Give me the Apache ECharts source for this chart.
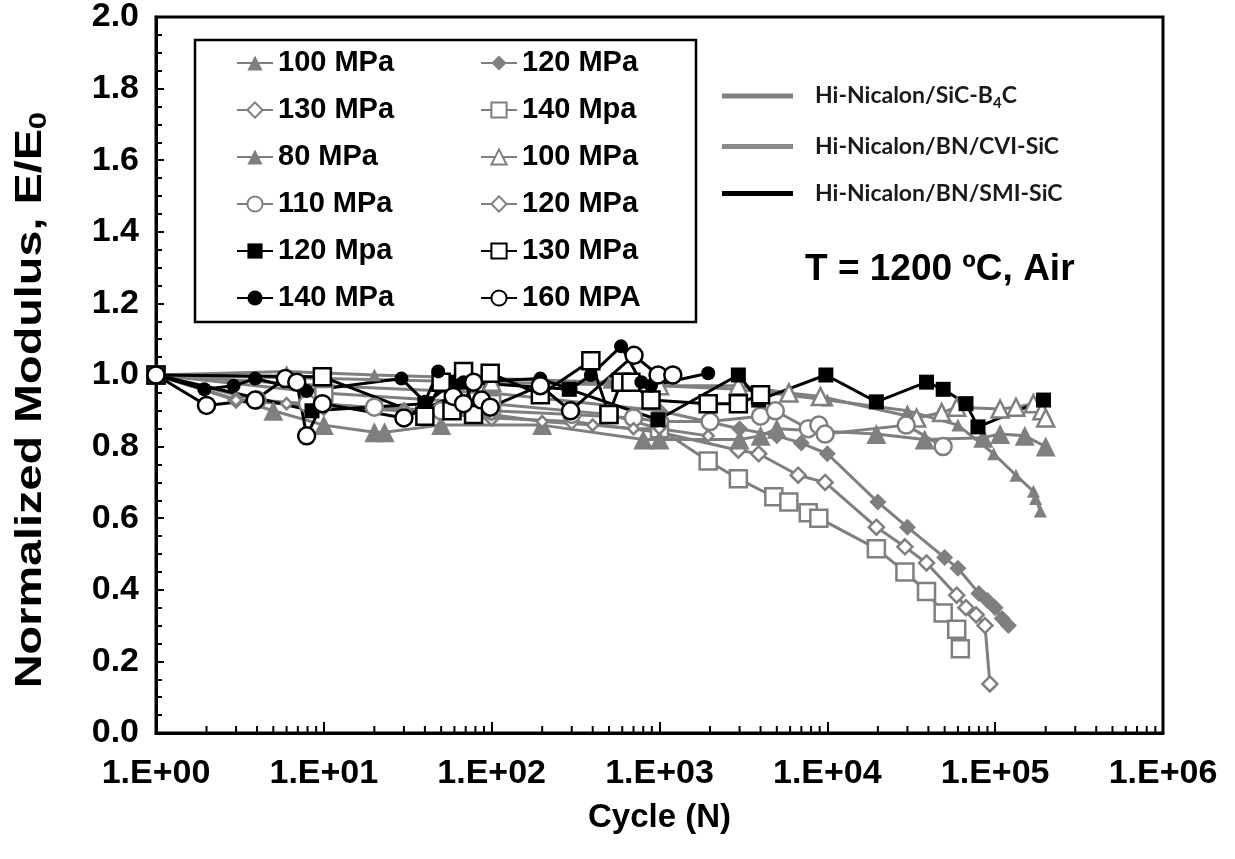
<!DOCTYPE html>
<html>
<head>
  <meta charset="utf-8">
</head>
<body style="margin: 0; background: #fff">
  <div id="container" style="width: 1235px; height: 859px"></div>
  <script src="https://cdn.jsdelivr.net/npm/echarts@6/dist/echarts.min.js"></script>
  <script>
    // Hi-Nicalon/SiC-B4C
    var b4c100 = [[1, 1.0], [6, 1.01], [20, 1.0], [100, 0.99], [500, 0.98], [1000, 0.97], [3000, 0.96], [10000, 0.93], [30000, 0.9], [60000, 0.86], [98000, 0.78], [133000, 0.72], [169000, 0.675], [174000, 0.655], [186000, 0.62]];
    var b4c120 = [[1, 1.0], [10, 0.97], [100, 0.95], [1000, 0.9], [3000, 0.85], [5000, 0.83], [7000, 0.81], [10000, 0.78], [20000, 0.645], [30000, 0.575], [50000, 0.49], [60000, 0.46], [80000, 0.39], [90000, 0.37], [100000, 0.35], [110000, 0.32], [120000, 0.3]];
    var b4c130 = [[1, 1.0], [3, 0.93], [10, 0.91], [30, 0.9], [100, 0.88], [300, 0.87], [1000, 0.84], [2950, 0.79], [3900, 0.78], [6700, 0.72], [9700, 0.7], [19600, 0.575], [29000, 0.52], [39000, 0.475], [59000, 0.385], [67000, 0.35], [77000, 0.33], [87000, 0.3], [93000, 0.137]];
    var b4c140 = [[1, 1.0], [10, 0.95], [100, 0.92], [500, 0.89], [1000, 0.85], [1950, 0.76], [2950, 0.71], [4800, 0.66], [5900, 0.645], [7700, 0.615], [8900, 0.6], [19600, 0.515], [29000, 0.45], [39000, 0.395], [49000, 0.335], [59000, 0.29], [62000, 0.235]];
    // Hi-Nicalon/BN/CVI-SiC
    var cvi80 = [[1, 1.0], [5, 0.9], [10, 0.86], [20, 0.84], [23, 0.84], [50, 0.86], [200, 0.86], [800, 0.82], [1000, 0.82], [3000, 0.82], [4000, 0.83], [5000, 0.85], [19600, 0.835], [38000, 0.82], [85000, 0.825], [107000, 0.835], [150000, 0.83], [200000, 0.8]];
    var cvi100 = [[1, 1.0], [10, 0.99], [100, 0.98], [1000, 0.97], [2950, 0.97], [5900, 0.95], [9100, 0.94], [34000, 0.88], [48000, 0.895], [59000, 0.91], [107000, 0.905], [133000, 0.91], [169000, 0.92], [190000, 0.9], [200000, 0.88]];
    var cvi110 = [[1, 1.0], [4, 0.93], [8, 0.92], [20, 0.91], [50, 0.9], [100, 0.9], [300, 0.89], [700, 0.88], [1000, 0.87], [2000, 0.87], [4000, 0.885], [4900, 0.9], [7700, 0.85], [8900, 0.86], [9700, 0.835], [29500, 0.86], [49000, 0.8]];
    var cvi120 = [[1, 1.0], [3, 0.93], [6, 0.92], [10, 0.92], [30, 0.9], [100, 0.89], [200, 0.87], [400, 0.86], [700, 0.85], [1000, 0.85], [1950, 0.83]];
    // Hi-Nicalon/BN/SMI-SiC
    var smi120 = [[1, 1.0], [8.5, 0.9], [40, 0.92], [60, 0.98], [70, 0.98], [290, 0.96], [980, 0.875], [2950, 1.0], [3900, 0.93], [9800, 1.0], [19600, 0.925], [39000, 0.98], [49000, 0.96], [67000, 0.92], [79000, 0.855], [194000, 0.93]];
    var smi130 = [[1, 1.0], [9.8, 0.995], [40, 0.885], [50, 0.98], [58, 0.9], [68, 1.01], [78, 0.89], [98, 1.005], [195, 0.945], [390, 1.04], [500, 0.89], [590, 0.98], [675, 0.98], [890, 0.93], [1950, 0.92], [2950, 0.92], [4000, 0.945]];
    var smi140 = [[1, 1.0], [1.94, 0.96], [2.9, 0.97], [3.9, 0.99], [7.9, 0.955], [29, 0.99], [40, 0.925], [48, 1.01], [68, 0.98], [195, 0.99], [295, 0.96], [390, 1.0], [590, 1.08], [780, 0.98], [890, 0.97], [1950, 1.005]];
    var smi160 = [[1, 1.0], [2, 0.915], [3.9, 0.93], [5.9, 0.99], [6.9, 0.98], [7.9, 0.83], [9.8, 0.92], [30, 0.88], [59, 0.94], [68, 0.92], [78, 0.98], [87, 0.93], [98, 0.91], [195, 0.97], [295, 0.9], [705, 1.055], [980, 1.0], [1200, 1.0]];

    var minorMult = [2, 3, 4, 5, 6, 7, 8, 9];
    var decades = [1, 10, 100, 1000, 10000, 100000];
    var materials = ['Hi-Nicalon/SiC-B4C', 'Hi-Nicalon/BN/CVI-SiC', 'Hi-Nicalon/BN/SMI-SiC'];

    var GREY = '#7f7f7f';
    var GREY2 = '#8a8a8a';

    // minor ticks of the log axis (2..9 in each decade)
    var minorTicks = [];
    decades.forEach(function (d) {
      minorMult.forEach(function (m) { minorTicks.push([d * m, 0]); });
    });

    function mk(name, data, color, symbol, size, open) {
      return {
        name: name,
        type: 'line',
        data: data,
        symbol: symbol,
        symbolSize: size,
        showAllSymbol: true,
        lineStyle: { color: color, width: 3 },
        itemStyle: open ? { color: '#fff', borderColor: color, borderWidth: 2.5 } : { color: color, borderColor: color, borderWidth: 0 },
        emphasis: { disabled: true },
        animation: false
      };
    }

    var series = [
      mk('100 MPa#b', b4c100, GREY, 'triangle', 13, false),
      mk('120 MPa#b', b4c120, GREY, 'diamond', 17, false),
      mk('130 MPa#b', b4c130, GREY, 'diamond', 15, true),
      mk('140 Mpa#b', b4c140, GREY, 'rect', 17, true),
      mk('80 MPa#c', cvi80, GREY, 'triangle', 20, false),
      mk('100 MPa#c', cvi100, GREY, 'triangle', 17, true),
      mk('110 MPa#c', cvi110, GREY, 'circle', 17, true),
      mk('120 MPa#c', cvi120, GREY, 'diamond', 11, true),
      mk('120 Mpa#s', smi120, '#000', 'rect', 15, false),
      mk('130 MPa#s', smi130, '#000', 'rect', 17, true),
      mk('140 MPa#s', smi140, '#000', 'circle', 14, false),
      mk('160 MPA#s', smi160, '#000', 'circle', 17, true)
    ];
    var matColors = [GREY, GREY2, '#000'];
    materials.forEach(function (m, i) {
      series.push({ name: m, type: 'line', data: [], symbol: 'none', lineStyle: { color: matColors[i], width: 5 }, itemStyle: { color: matColors[i] } });
    });
    series.push({
      type: 'custom',
      data: minorTicks,
      silent: true,
      animation: false,
      clip: false,
      renderItem: function (params, api) {
        var p = api.coord([api.value(0), 0]);
        return { type: 'line', shape: { x1: p[0], y1: p[1], x2: p[0], y2: p[1] - 7 }, style: { stroke: '#000', lineWidth: 2 } };
      }
    });

    var font = 'Liberation Sans, Arial, sans-serif';
    var strip = function (n) { return n.split('#')[0]; };
    var legendText = { fontFamily: font, fontWeight: 'bold', fontSize: 29, color: '#000', width: 150, lineHeight: 30 };

    var chart = echarts.init(document.getElementById('container'));
    chart.setOption({
      animation: false,
      grid: { left: 156, right: 72, top: 13, bottom: 126, show: true, borderColor: '#000', borderWidth: 3 },
      xAxis: {
        type: 'log', logBase: 10, min: 1, max: 1000000,
        name: 'Cycle (N)', nameLocation: 'middle', nameGap: 68,
        nameTextStyle: { fontFamily: font, fontWeight: 'bold', fontSize: 33, color: '#000' },
        axisLine: { lineStyle: { color: '#000', width: 3 } },
        axisTick: { inside: true, length: 11, lineStyle: { color: '#000', width: 2 } },
        splitLine: { show: false },
        axisLabel: {
          margin: 24, fontFamily: font, fontWeight: 'bold', fontSize: 34, color: '#000',
          formatter: function (v) { var e = Math.round(Math.log10(v)); return '1.E+' + (e < 10 ? '0' : '') + e; }
        }
      },
      yAxis: {
        type: 'value', min: 0, max: 2, interval: 0.2,
        axisLine: { show: true, lineStyle: { color: '#000', width: 3 } },
        axisTick: { show: true, inside: true, length: 8, lineStyle: { color: '#000', width: 2 } },
        minorTick: { show: true, splitNumber: 4, length: 6, lineStyle: { color: '#000', width: 2 } },
        splitLine: { show: false },
        axisLabel: {
          margin: 17, fontFamily: font, fontWeight: 'bold', fontSize: 34, color: '#000',
          formatter: function (v) { return v.toFixed(1); }
        }
      },
      legend: [
        {
          orient: 'vertical', left: 195, top: 40,
          padding: [8, 268, 9, 41], itemGap: 17, itemWidth: 36, itemHeight: 19,
          borderColor: '#000', borderWidth: 2.5,
          selectedMode: false,
          data: ['100 MPa#b', '130 MPa#b', '80 MPa#c', '110 MPa#c', '120 Mpa#s', '140 MPa#s'],
          formatter: strip, textStyle: legendText
        },
        {
          orient: 'vertical', left: 480, top: 48,
          padding: 0, itemGap: 17, itemWidth: 36, itemHeight: 19,
          selectedMode: false,
          data: ['120 MPa#b', '140 Mpa#b', '100 MPa#c', '120 MPa#c', '130 MPa#s', '160 MPA#s'],
          formatter: strip, textStyle: legendText
        },
        {
          orient: 'vertical', left: 722, top: 84,
          padding: 0, itemGap: 24, itemWidth: 71, itemHeight: 5, icon: 'rect',
          selectedMode: false,
          data: materials,
          formatter: function (n) { return n === materials[0] ? '{a|Hi-Nicalon/SiC-B}{s|4}{a|C}' : '{a|' + n + '}'; },
          textStyle: {
            padding: [0, 0, 0, 17],
            rich: {
              a: { fontFamily: 'Lato, sans-serif', fontWeight: 'bold', fontSize: 23, color: '#1a1a1a', lineHeight: 30 },
              s: { fontFamily: 'Lato, sans-serif', fontWeight: 'bold', fontSize: 15, color: '#1a1a1a', verticalAlign: 'bottom', lineHeight: 30, padding: [12, 0, 0, 0] }
            }
          }
        }
      ],
      graphic: [
        { type: 'text', left: 805, top: 251, style: { text: 'T = 1200 ºC, Air', fontFamily: font, fontWeight: 'bold', fontSize: 37, fill: '#000' } },
        {
          type: 'text', x: 31, y: 400, rotation: Math.PI / 2, scaleX: 1.3,
          style: {
            text: '{a|Normalized Modulus, E/E}{s|0}', align: 'center', verticalAlign: 'middle',
            rich: {
              a: { fontFamily: font, fontWeight: 'bold', fontSize: 36, fill: '#000' },
              s: { fontFamily: font, fontWeight: 'bold', fontSize: 24, fill: '#000', verticalAlign: 'bottom', padding: [16, 0, 0, 0] }
            }
          }
        }
      ],
      series: series
    });
  </script>
</body>
</html>
